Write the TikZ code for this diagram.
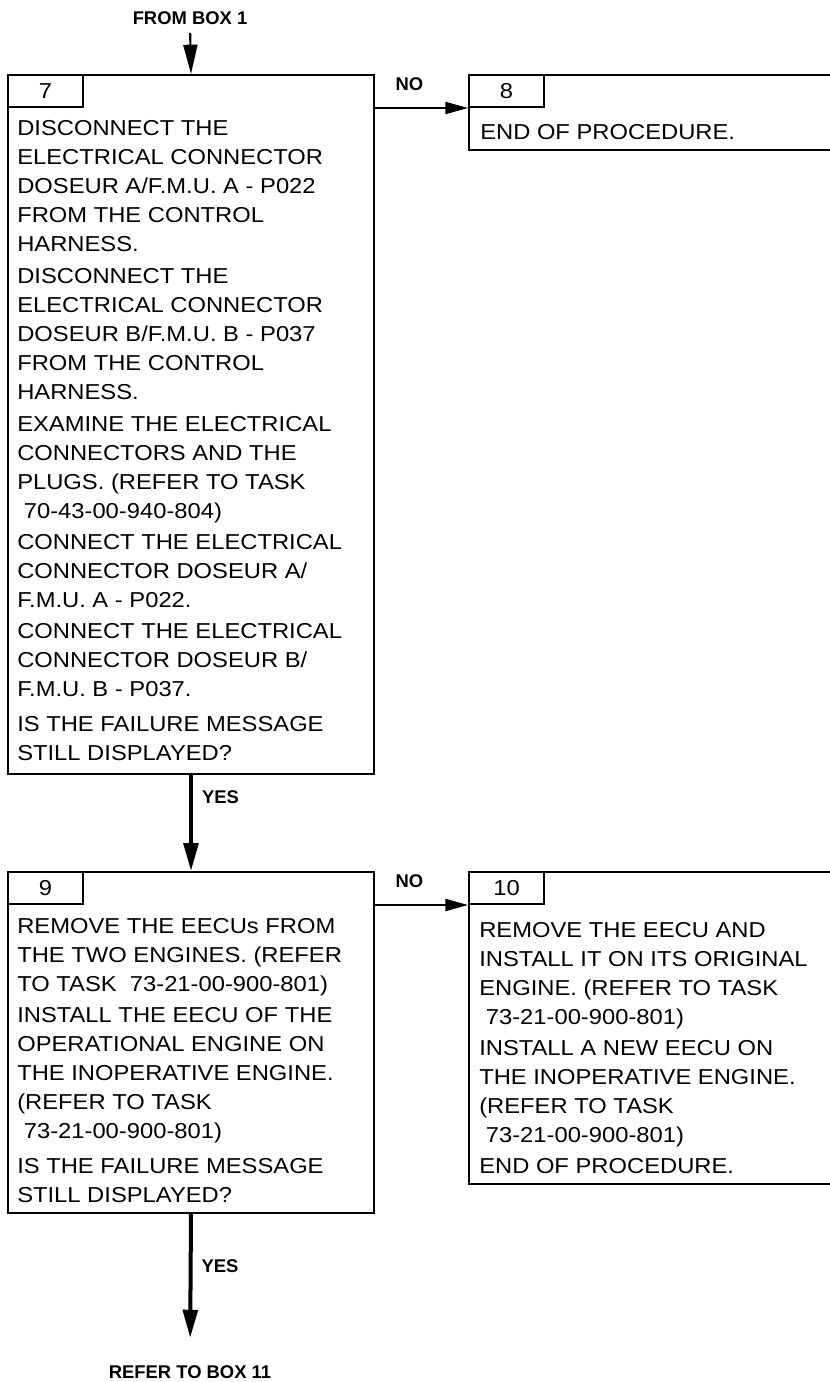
\documentclass[tikz,border=0pt]{standalone}
\usepackage{fontspec}
\setmainfont{Liberation Sans}[FakeStretch=1.1]
\newfontfamily\lblfont{Liberation Sans}
\usepackage{tikz}
\usetikzlibrary{arrows.meta, positioning}

\newcommand{\pxl}{0.75pt}

\tikzset{
    box/.style={draw, line width=1.5pt, inner sep=0pt, anchor=north west},
    tab/.style={draw, line width=1.5pt, inner sep=0pt, anchor=north west,
        minimum width=75*\pxl, minimum height=32*\pxl, font=\fontsize{16.2}{21.75}\selectfont},
    txt/.style={align=left, inner sep=0pt, anchor=north west, font=\fontsize{16.2}{21.75}\selectfont},
    flow/.style={line width=3pt, -{Triangle[length=21pt, width=11pt]}},
    side/.style={line width=1.6pt, -{Triangle[length=17pt, width=9pt]}},
    lbl/.style={inner sep=0pt, font=\lblfont\fontsize{13.8}{16}\selectfont\bfseries},
}

\begin{document}
\begin{tikzpicture}[x=\pxl, y=-\pxl]
    \useasboundingbox (0,0) rectangle (830,1382);

    % Draw the boxes
    \node[box, minimum width=366*\pxl, minimum height=699*\pxl] (box7) at (7,74) {};
    \node[box, minimum width=380*\pxl, minimum height=75*\pxl] (box8) at (468,74) {};
    \node[box, minimum width=366*\pxl, minimum height=341*\pxl] (box9) at (7,871) {};
    \node[box, minimum width=380*\pxl, minimum height=312*\pxl] (box10) at (468,871) {};

    % Number tabs
    \node[tab] (tab7) at (box7.north west) {7};
    \node[tab] (tab8) at (box8.north west) {8};
    \node[tab] (tab9) at (box9.north west) {9};
    \node[tab] (tab10) at (box10.north west) {10};

    % Box texts
    \node[txt] (txt7) at (17,120.5) {DISCONNECT THE\\
        ELECTRICAL CONNECTOR\\
        DOSEUR A/F.M.U. A - P022\\
        FROM THE CONTROL\\
        HARNESS.\\[2.25pt]
        DISCONNECT THE\\
        ELECTRICAL CONNECTOR\\
        DOSEUR B/F.M.U. B - P037\\
        FROM THE CONTROL\\
        HARNESS.\\[2.25pt]
        EXAMINE THE ELECTRICAL\\
        CONNECTORS AND THE\\
        PLUGS. (REFER TO TASK\\
        \ 70-43-00-940-804)\\[1.5pt]
        CONNECT THE ELECTRICAL\\
        CONNECTOR DOSEUR A/\\
        F.M.U. A - P022.\\[1.5pt]
        CONNECT THE ELECTRICAL\\
        CONNECTOR DOSEUR B/\\
        F.M.U. B - P037.\\[4.5pt]
        IS THE FAILURE MESSAGE\\
        STILL DISPLAYED?};
    \node[txt] (txt8) at (480,124.5) {END OF PROCEDURE.};
    \node[txt] (txt9) at (17,918.5) {REMOVE THE EECUs FROM\\
        THE TWO ENGINES. (REFER\\
        TO TASK~\ 73-21-00-900-801)\\[1.5pt]
        INSTALL THE EECU OF THE\\
        OPERATIONAL ENGINE ON\\
        THE INOPERATIVE ENGINE.\\
        (REFER TO TASK\\
        \ 73-21-00-900-801)\\[4.5pt]
        IS THE FAILURE MESSAGE\\
        STILL DISPLAYED?};
    \node[txt] (txt10) at (479,922) {REMOVE THE EECU AND\\
        INSTALL IT ON ITS ORIGINAL\\
        ENGINE. (REFER TO TASK\\
        \ 73-21-00-900-801)\\[1.5pt]
        INSTALL A NEW EECU ON\\
        THE INOPERATIVE ENGINE.\\
        (REFER TO TASK\\
        \ 73-21-00-900-801)\\[1.5pt]
        END OF PROCEDURE.};

    % Entry and exit labels
    \node[lbl] (from1) at (190,18) {FROM BOX 1};
    \node[lbl] (ref11) at (190,1372) {REFER TO BOX 11};

    % Connectors
    \draw[line width=1.6pt, -{Triangle[length=22pt, width=10.5pt]}, shorten <=6pt] (from1.south) -- (box7.north);
    \draw[side] (tab7.south -| box7.east) -- (tab8.south west)
        node[lbl, midway, above=12pt, xshift=-9pt] {NO};
    \draw[side] (tab9.south -| box9.east) -- (tab10.south west)
        node[lbl, midway, above=12pt, xshift=-9pt] {NO};
    \draw[flow] (box7.south) -- (box9.north)
        node[lbl, pos=0.227, right=6.75pt] {YES};
    \draw[flow, shorten >=20.6pt] (box9.south) -- (ref11.north)
        node[lbl, pos=0.345, right=6.75pt] {YES};

\end{tikzpicture}
\end{document}
